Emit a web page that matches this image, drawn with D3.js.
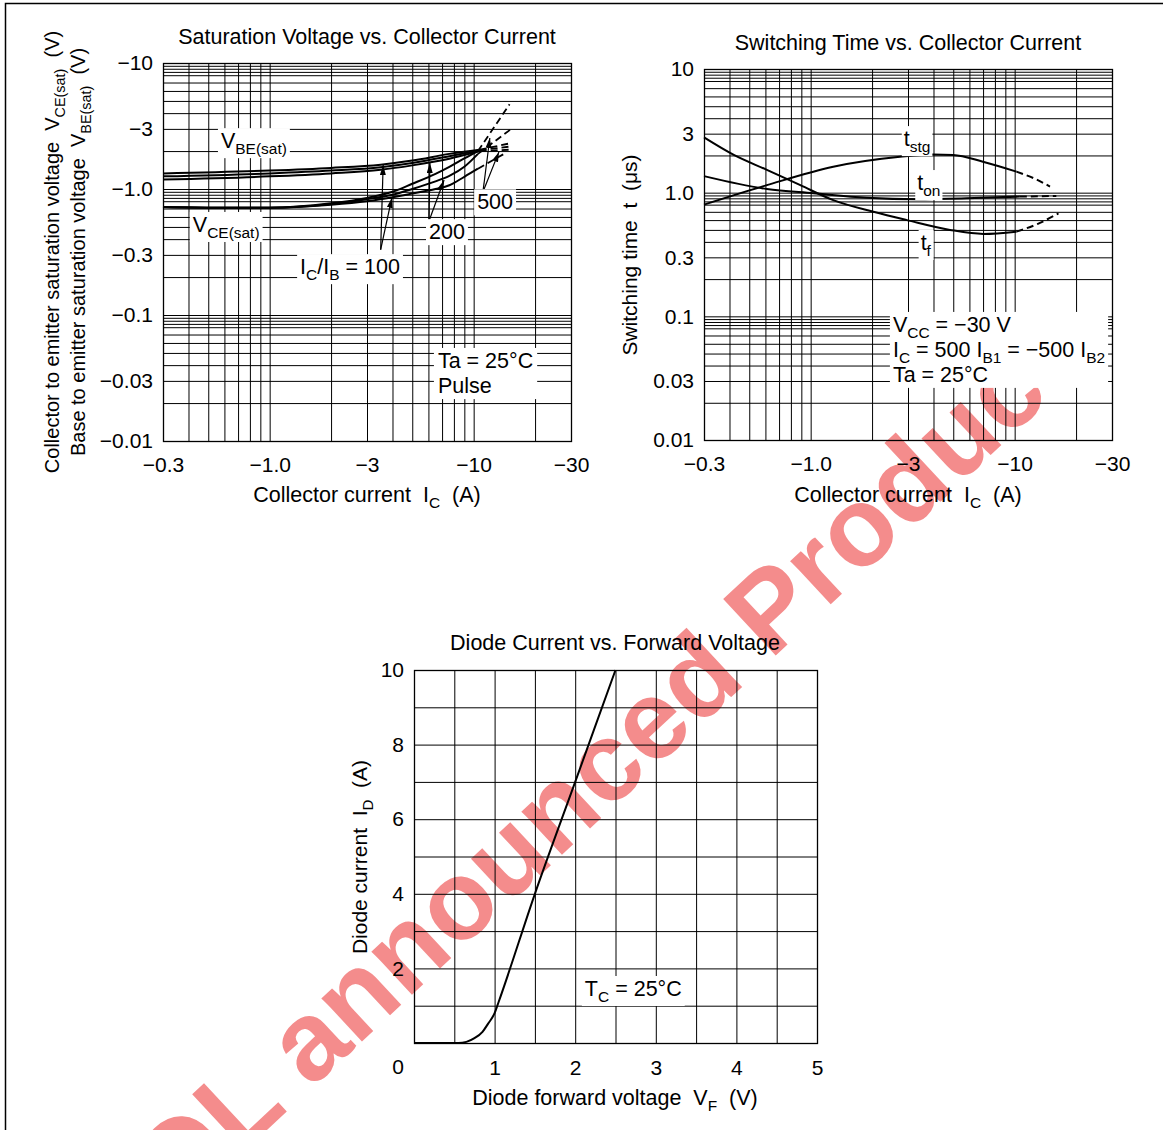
<!DOCTYPE html>
<html>
<head>
<meta charset="utf-8">
<script src="https://cdn.jsdelivr.net/npm/d3@7"></script>
<style>
body { margin: 0; background: #fff; }
text { font-family: "Liberation Sans", Arial, Helvetica, sans-serif; fill: #000; white-space: pre; }
</style>
</head>
<body>
<svg id="chart" width="1163" height="1130"></svg>
<script>
// ---------- data ----------
const logTicksX = [0.3, 1, 3, 10, 30];
const logTickLabelsX = ['−0.3', '−1.0', '−3', '−10', '−30'];
const logTicksY = [10, 3, 1, 0.3, 0.1, 0.03, 0.01];
const satTickLabelsY = ['−10', '−3', '−1.0', '−0.3', '−0.1', '−0.03', '−0.01'];
const swTickLabelsY = ['10', '3', '1.0', '0.3', '0.1', '0.03', '0.01'];
const gridMultX = [1, 2, 3, 4, 5, 6, 7, 8, 9];
const gridMultY = [1, 2, 3, 4, 5, 6, 7, 8, 8.5, 9, 9.5];
const gridDecades = [0.01, 0.1, 1, 10];

// saturation voltage (|V|) vs collector current (|A|)
const vbeI   = [0.3, 1, 2, 3.5, 5, 7.6, 10.7];
const vbe100 = [1.33, 1.40, 1.47, 1.56, 1.68, 1.90, 2.05];
const vbe200 = [1.26, 1.33, 1.40, 1.49, 1.61, 1.82, 2.03];
const vbe500 = [1.19, 1.26, 1.33, 1.42, 1.54, 1.74, 2.00];
const vbeDashI = [10.7, 15];
const vbeDash = [[2.05, 2.30], [2.03, 2.17], [2.00, 2.05]];

const vceI   = [0.3, 0.6, 1, 2, 3, 4, 5, 6.5, 7.6, 9, 10.5];
const vce100 = [0.72, 0.71, 0.71, 0.77, 0.85, 0.95, 1.10, 1.32, 1.50, 1.75, 2.00];
const vce200 = [0.72, 0.71, 0.71, 0.76, 0.83, 0.90, 1.00, 1.15, 1.27, 1.50, 1.90];
const vce500 = [0.72, 0.71, 0.71, 0.75, 0.80, 0.86, 0.92, 1.00, 1.07, 1.25, 1.45];
const vceDashI = [[10.5, 15], [10.5, 15.3], [10.5, 14.5]];
const vceDash  = [[2.00, 4.7], [1.90, 3.0], [1.45, 1.95]];

// switching time (us) vs collector current (|A|)
const tstgI = [0.3, 0.61, 1.29, 2.74, 3.98, 4.99, 6.99, 10.2];
const tstg  = [0.80, 1.15, 1.62, 1.95, 2.04, 2.02, 1.78, 1.48];
const tstgDashI = [10.2, 12.5, 14.9];
const tstgDash  = [1.48, 1.30, 1.12];
const tonI = [0.3, 0.61, 1.03, 1.88, 3.31, 5.82, 10.6];
const ton  = [1.36, 1.07, 0.99, 0.91, 0.885, 0.90, 0.93];
const tonDashI = [10.6, 16.0];
const tonDash  = [0.93, 0.94];
const tfI = [0.3, 0.42, 0.61, 0.89, 1.29, 2.03, 2.96, 4.82, 7.02, 10.2];
const tf  = [2.80, 2.02, 1.53, 1.15, 0.87, 0.70, 0.60, 0.50, 0.464, 0.484];
const tfDashI = [10.2, 13, 16.4];
const tfDash  = [0.484, 0.56, 0.68];

// diode forward characteristic
const diodeV = [0, 0.55, 0.65, 0.75, 0.85, 0.92, 1.0, 1.05, 1.5, 2.0, 2.5];
const diodeI = [0, 0, 0.03, 0.13, 0.30, 0.52, 0.80, 1.10, 4.0, 7.0, 10.0];
const diodeTicksX = [1, 2, 3, 4, 5];
const diodeTicksY = [2, 4, 6, 8, 10];
const diodeGridX = d3.range(0, 5.01, 0.5);
const diodeGridY = d3.range(0, 10.01, 1);

// ---------- layout ----------
const satBox = {left: 163, right: 571, top: 63, bottom: 441};
const swBox  = {left: 704, right: 1112, top: 69, bottom: 440};
const dioBox = {left: 414, right: 817, top: 670, bottom: 1043};
const FS = 21.5;   // label / annotation size
const TICK = 21;

const svg = d3.select('#chart');
svg.append('rect').attr('width', 1163).attr('height', 1130).attr('fill', '#fff');
svg.append('path').attr('d', 'M5.5,1130V3.5H1163')
    .attr('fill', 'none').attr('stroke', '#000').attr('stroke-width', 1.5);

svg.append('defs').append('marker')
    .attr('id', 'ah').attr('viewBox', '0 0 10 6')
    .attr('refX', 10).attr('refY', 3)
    .attr('markerWidth', 10).attr('markerHeight', 6)
    .attr('markerUnits', 'userSpaceOnUse').attr('orient', 'auto')
  .append('path').attr('d', 'M0,0L10,3L0,6Z').attr('fill', '#000');

// watermark sits under the charts; label boxes cover it
svg.append('text')
    .attr('transform', 'translate(121,1266) rotate(-43)')
    .style('font-size', '112px').style('font-weight', 'bold')
    .style('fill', 'rgb(238,70,70)').attr('opacity', 0.62)
    .text('EOL announced Product');

const logGrid = (mult, lo, hi) =>
    gridDecades.flatMap(d => mult.map(m => +(d * m).toPrecision(4)))
        .filter(v => v >= lo - 1e-9 && v <= hi + 1e-9);

// text with _{subscript} parts
function rich(g, x, y, str, opt = {}) {
    const fs = opt.size || FS;
    const t = g.append('text').attr('x', x).attr('y', y).style('font-size', fs + 'px');
    if (opt.anchor) t.attr('text-anchor', opt.anchor);
    if (opt.rotate) t.attr('transform', `rotate(-90,${x},${y})`);
    let sub = false;
    str.split(/(_\{[^}]*\})/).forEach(p => {
        if (!p) return;
        if (p.startsWith('_{')) {
            t.append('tspan').text(p.slice(2, -1))
                .style('font-size', (fs * 0.72) + 'px').attr('dy', fs * 0.28);
            sub = true;
        } else {
            const s = t.append('tspan').text(p);
            if (sub) { s.attr('dy', -fs * 0.28); sub = false; }
        }
    });
    return t;
}

// white box behind one or more text nodes
function whiteBox(g, texts, pad = 3) {
    const bs = texts.map(t => t.node().getBBox());
    const x0 = d3.min(bs, b => b.x) - pad, x1 = d3.max(bs, b => b.x + b.width) + pad;
    const y0 = d3.min(bs, b => b.y) - 1, y1 = d3.max(bs, b => b.y + b.height) + 1;
    g.insert('rect', () => texts[0].node())
        .attr('x', x0).attr('y', y0).attr('width', x1 - x0).attr('height', y1 - y0)
        .attr('fill', '#fff');
}

function drawGrid(g, x, y, xs, ys, box) {
    const h = box.bottom - box.top, w = box.right - box.left;
    g.append('g').attr('transform', `translate(0,${box.bottom})`)
        .call(d3.axisBottom(x).tickValues(xs).tickSize(-h).tickFormat(''))
        .call(a => a.select('.domain').remove())
        .selectAll('line').attr('stroke', '#000').attr('stroke-width', 1);
    g.append('g').attr('transform', `translate(${box.left},0)`)
        .call(d3.axisLeft(y).tickValues(ys).tickSize(-w).tickFormat(''))
        .call(a => a.select('.domain').remove())
        .selectAll('line').attr('stroke', '#000').attr('stroke-width', 1);
}

function drawFrame(g, box) {
    g.append('rect').attr('x', box.left + 0.5).attr('y', box.top + 0.5)
        .attr('width', box.right - box.left).attr('height', box.bottom - box.top)
        .attr('fill', 'none').attr('stroke', '#000').attr('stroke-width', 1.3);
}

function drawTicks(g, x, y, xv, xl, yv, yl, box, padB) {
    g.append('g').attr('transform', `translate(0,${box.bottom})`)
        .call(d3.axisBottom(x).tickValues(xv).tickFormat((d, i) => xl[i]).tickSize(0).tickPadding(padB))
        .call(a => a.select('.domain').remove())
        .selectAll('text').style('font-size', TICK + 'px');
    g.append('g').attr('transform', `translate(${box.left},0)`)
        .call(d3.axisLeft(y).tickValues(yv).tickFormat((d, i) => yl[i]).tickSize(0).tickPadding(10))
        .call(a => a.select('.domain').remove())
        .selectAll('text').style('font-size', TICK + 'px');
}

function curve(g, x, y, xs, ys, dashed, width = 2) {
    const line = d3.line().x(d => x(d[0])).y(d => y(d[1])).curve(d3.curveMonotoneX);
    g.append('path').attr('d', line(xs.map((v, i) => [v, ys[i]])))
        .attr('fill', 'none').attr('stroke', '#000').attr('stroke-width', width)
        .attr('stroke-dasharray', dashed ? '7,4' : null);
}

// ---------- chart 1: saturation voltage ----------
{
    const g = svg.append('g');
    const x = d3.scaleLog().domain([0.3, 30]).range([satBox.left, satBox.right]);
    const y = d3.scaleLog().domain([0.01, 10]).range([satBox.bottom, satBox.top]);
    drawGrid(g, x, y, logGrid(gridMultX, 0.3, 30), logGrid(gridMultY, 0.01, 10), satBox);

    [vbe100, vbe200, vbe500].forEach(s => curve(g, x, y, vbeI, s, false, 2));
    vbeDash.forEach(s => curve(g, x, y, vbeDashI, s, true, 1.8));
    [vce100, vce200, vce500].forEach(s => curve(g, x, y, vceI, s, false, 2));
    vceDash.forEach((s, i) => curve(g, x, y, vceDashI[i], s, true, 1.8));

    const satArrows = [
        [3.5, 0.33, 3.6, 1.55], [3.5, 0.33, 3.97, 0.85],
        [6.04, 0.557, 6.1, 1.61], [6.04, 0.557, 7.16, 1.18],
        [11.1, 0.947, 12.0, 2.54], [11.1, 0.947, 13.3, 1.97]
    ];
    g.selectAll('.arr').data(satArrows).enter().append('line')
        .attr('x1', d => x(d[0])).attr('y1', d => y(d[1]))
        .attr('x2', d => x(d[2])).attr('y2', d => y(d[3]))
        .attr('stroke', '#000').attr('stroke-width', 1.2).attr('marker-end', 'url(#ah)');

    const satNotes = [
        [0.577, 2.11, 'V_{BE(sat)}'],
        [0.42, 0.456, 'V_{CE(sat)}'],
        [1.41, 0.211, 'I_{C}/I_{B} = 100'],
        [6.04, 0.40, '200'],
        [10.4, 0.69, '500']
    ];
    satNotes.forEach(n => whiteBox(g, [rich(g, x(n[0]), y(n[1]), n[2])]));
    const ta = [rich(g, x(6.68), y(0.038), 'Ta = 25°C'), rich(g, x(6.68), y(0.024), 'Pulse')];
    whiteBox(g, ta, 4);

    drawFrame(g, satBox);
    drawTicks(g, x, y, logTicksX, logTickLabelsX, logTicksY, satTickLabelsY, satBox, 16);

    rich(g, 367, 44, 'Saturation Voltage vs. Collector Current', {anchor: 'middle'});
    rich(g, 367, 502, 'Collector current  I_{C}  (A)', {anchor: 'middle'});
    rich(g, 59, 252, 'Collector to emitter saturation voltage  V_{CE(sat)}  (V)', {anchor: 'middle', size: 20, rotate: true});
    rich(g, 85, 252, 'Base to emitter saturation voltage  V_{BE(sat)}  (V)', {anchor: 'middle', size: 20, rotate: true});
}

// ---------- chart 2: switching time ----------
{
    const g = svg.append('g');
    const x = d3.scaleLog().domain([0.3, 30]).range([swBox.left, swBox.right]);
    const y = d3.scaleLog().domain([0.01, 10]).range([swBox.bottom, swBox.top]);
    drawGrid(g, x, y, logGrid(gridMultX, 0.3, 30), logGrid(gridMultY, 0.01, 10), swBox);

    curve(g, x, y, tstgI, tstg, false);
    curve(g, x, y, tstgDashI, tstgDash, true);
    curve(g, x, y, tonI, ton, false);
    curve(g, x, y, tonDashI, tonDash, true);
    curve(g, x, y, tfI, tf, false);
    curve(g, x, y, tfDashI, tfDash, true);

    const swNotes = [[2.86, 2.38, 't_{stg}'], [3.33, 1.05, 't_{on}'], [3.46, 0.344, 't_{f}']];
    swNotes.forEach(n => whiteBox(g, [rich(g, x(n[0]), y(n[1]), n[2])], 2));
    const cond = [
        rich(g, x(2.53), y(0.0748), 'V_{CC} = −30 V'),
        rich(g, x(2.53), y(0.047), 'I_{C} = 500 I_{B1} = −500 I_{B2}'),
        rich(g, x(2.53), y(0.0295), 'Ta = 25°C')
    ];
    whiteBox(g, cond, 3);

    drawFrame(g, swBox);
    drawTicks(g, x, y, logTicksX, logTickLabelsX, logTicksY, swTickLabelsY, swBox, 16);

    rich(g, 908, 50, 'Switching Time vs. Collector Current', {anchor: 'middle'});
    rich(g, 908, 502, 'Collector current  I_{C}  (A)', {anchor: 'middle'});
    rich(g, 637, 255, 'Switching time  t  (μs)', {anchor: 'middle', size: 21, rotate: true});
}

// ---------- chart 3: diode ----------
{
    const g = svg.append('g');
    const x = d3.scaleLinear().domain([0, 5]).range([dioBox.left, dioBox.right]);
    const y = d3.scaleLinear().domain([0, 10]).range([dioBox.bottom, dioBox.top]);
    drawGrid(g, x, y, diodeGridX, diodeGridY, dioBox);

    curve(g, x, y, diodeV, diodeI, false);

    whiteBox(g, [rich(g, x(2.12), y(1.26), 'T_{C} = 25°C')], 3);

    drawFrame(g, dioBox);
    drawTicks(g, x, y, diodeTicksX, diodeTicksX.map(String), diodeTicksY, diodeTicksY.map(String), dioBox, 17);
    g.append('text').attr('x', x(0) - 16).attr('y', dioBox.bottom + 31)
        .attr('text-anchor', 'middle').style('font-size', TICK + 'px').text('0');

    rich(g, 615, 650, 'Diode Current vs. Forward Voltage', {anchor: 'middle'});
    rich(g, 615, 1105, 'Diode forward voltage  V_{F}  (V)', {anchor: 'middle'});
    rich(g, 367, 857, 'Diode current  I_{D}  (A)', {anchor: 'middle', size: 21, rotate: true});
}
</script>
</body>
</html>
